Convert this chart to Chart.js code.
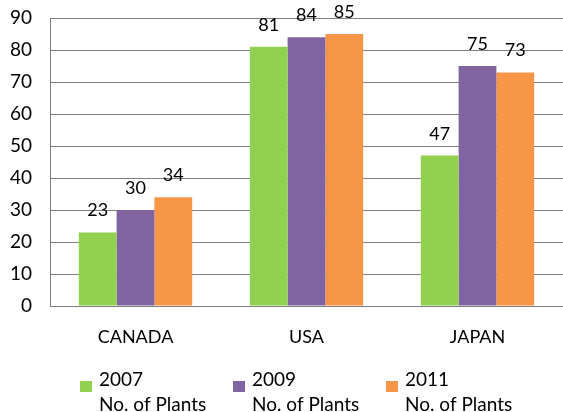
<!DOCTYPE html>
<html>
<head>
<meta charset="utf-8">
<script src="https://cdn.jsdelivr.net/npm/chart.js@4/dist/chart.umd.min.js"></script>
<style>
    html, body { margin: 0; padding: 0; background: #fff; }
    #wrap { width: 563px; height: 412px; }
</style>
</head>
<body>
<div id="wrap"><canvas id="myChart" width="563" height="412"></canvas></div>
<script>
    const categories = ['CANADA', 'USA', 'JAPAN'];
    const seriesNames = [['2007', 'No. of Plants'], ['2009', 'No. of Plants'], ['2011', 'No. of Plants']];
    const values2007 = [23, 81, 47];
    const values2009 = [30, 84, 75];
    const values2011 = [34, 85, 73];
    const yTicks = [0, 10, 20, 30, 40, 50, 60, 70, 80, 90];

    const colors = ['#92D050', '#8064A2', '#F79646'];
    const fontFamily = "Lato, 'Open Sans', sans-serif";

    // value labels above each bar
    const barLabels = {
        id: 'barLabels',
        afterDatasetsDraw(chart) {
            let ctx = chart.ctx;
            ctx.save();
            ctx.font = '18px ' + fontFamily;
            ctx.fillStyle = '#000';
            ctx.textAlign = 'center';
            ctx.textBaseline = 'alphabetic';
            chart.data.datasets.forEach((ds, i) => {
                chart.getDatasetMeta(i).data.forEach((bar, j) => {
                    ctx.fillText(String(ds.data[j]), bar.x, bar.y - 16);
                });
            });
            ctx.restore();
        }
    };

    // two-line legend at the bottom
    const bottomLegend = {
        id: 'bottomLegend',
        afterDraw(chart) {
            let ctx = chart.ctx;
            ctx.save();
            ctx.font = '19px ' + fontFamily;
            ctx.textAlign = 'left';
            ctx.textBaseline = 'alphabetic';
            chart.data.datasets.forEach((ds, i) => {
                let x = 80 + i * 153;
                ctx.fillStyle = ds.backgroundColor;
                ctx.fillRect(x, 381, 12, 11);
                ctx.fillStyle = '#000';
                ctx.fillText(ds.label[0], x + 19, 386);
                ctx.fillText(ds.label[1], x + 19, 411);
            });
            ctx.restore();
        }
    };

    let datasets = [values2007, values2009, values2011].map((vals, i) => ({
        label: seriesNames[i],
        data: vals,
        backgroundColor: colors[i],
        borderWidth: 0,
        barPercentage: 1,
        categoryPercentage: 0.663
    }));

    new Chart(document.getElementById('myChart').getContext('2d'), {
        type: 'bar',
        data: { labels: categories, datasets: datasets },
        options: {
            responsive: false,
            animation: false,
            layout: { padding: { top: 18, right: 0, left: 0, bottom: 0 } },
            plugins: {
                legend: { display: false },
                tooltip: { enabled: false }
            },
            scales: {
                x: {
                    grid: { display: false, drawTicks: false },
                    border: { color: '#7f7f7f', width: 1 },
                    ticks: { font: { size: 18, family: fontFamily }, color: '#000', padding: 20 },
                    afterFit(scale) { scale.height = 106; }
                },
                y: {
                    min: 0,
                    max: 90,
                    afterBuildTicks(scale) { scale.ticks = yTicks.map(v => ({ value: v })); },
                    grid: { color: '#7f7f7f', lineWidth: 1, drawTicks: false },
                    border: { color: '#7f7f7f', width: 1 },
                    ticks: { font: { size: 19, family: fontFamily }, color: '#000', padding: 18 },
                    afterFit(scale) {
                        scale.width = 50;
                        scale.paddingTop = 0;
                        scale.paddingBottom = 0;
                    }
                }
            }
        },
        plugins: [barLabels, bottomLegend]
    });
</script>
</body>
</html>
